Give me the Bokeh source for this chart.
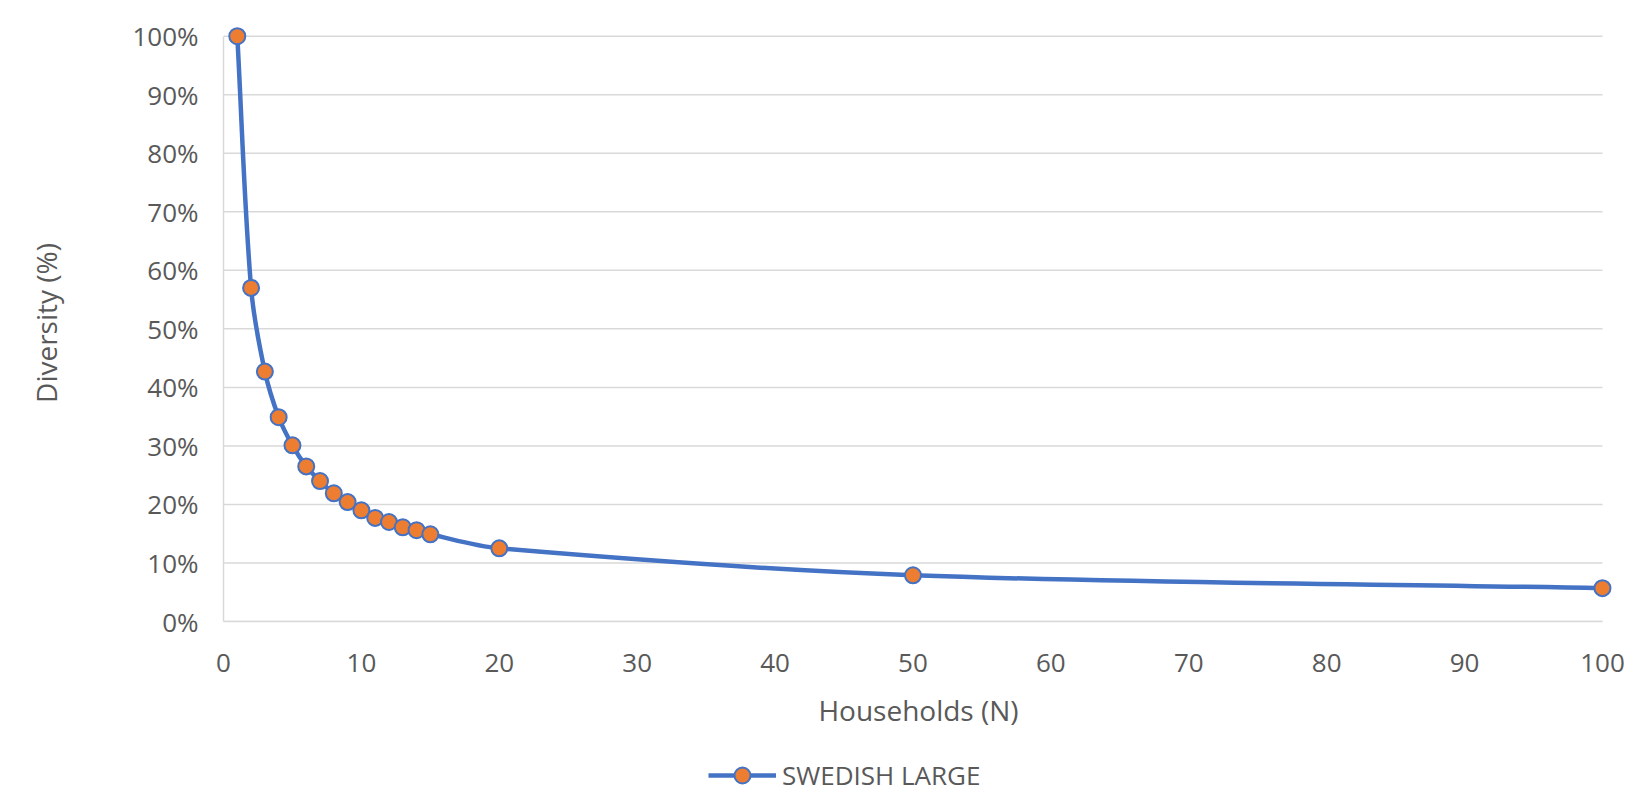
import math
import numpy as np
from bokeh.plotting import figure
from bokeh.layouts import column
from bokeh.models import Range1d, FixedTicker, Legend, LegendItem, NumeralTickFormatter
from bokeh.embed import file_html
from bokeh.resources import INLINE

# ---- data ----
households = [1, 2, 3, 4, 5, 6, 7, 8, 9, 10, 11, 12, 13, 14, 15, 20, 50, 100]
diversity = [1.000, 0.570, 0.427, 0.349, 0.301, 0.265, 0.240, 0.219, 0.204,
             0.190, 0.177, 0.170, 0.161, 0.156, 0.149, 0.125, 0.079, 0.057]
x_ticks = [0, 10, 20, 30, 40, 50, 60, 70, 80, 90, 100]
y_ticks = [0.0, 0.1, 0.2, 0.3, 0.4, 0.5, 0.6, 0.7, 0.8, 0.9, 1.0]
series_name = "SWEDISH LARGE"
x_title = "Households (N)"
y_title = "Diversity (%)"

LINE = "#4472C4"
MARK = "#ED7D31"
GRID = "#D9D9D9"
TXT = "#595959"
FONT = "Open Sans"

W = 1640
H_MAIN = 750
H_LEG = 52
LEFT = 223
p = figure(width=W, height=H_MAIN, output_backend="svg", toolbar_location=None,
           x_range=Range1d(0, 100.8), y_range=Range1d(0, 1.02),
           min_border_left=LEFT, min_border_right=W - 1613, min_border_top=24,
           min_border_bottom=H_MAIN - 621)
p.outline_line_color = None
p.xgrid.visible = False
p.ygrid.visible = False

# horizontal gridlines, spanning 0..100 like the reference
p.segment(x0=[x_ticks[0]] * len(y_ticks), x1=[x_ticks[-1]] * len(y_ticks),
          y0=y_ticks, y1=y_ticks, line_color=GRID, line_width=1.5)

# axes
for ax in (p.xaxis[0], p.yaxis[0]):
    ax.axis_line_color = GRID
    ax.axis_line_width = 1.5
    ax.major_tick_line_color = None
    ax.minor_tick_line_color = None
    ax.major_label_text_font = FONT
    ax.major_label_text_font_size = "26px"
    ax.major_label_text_color = TXT
    ax.axis_label_text_font = FONT
    ax.axis_label_text_font_style = "normal"
    ax.axis_label_text_color = TXT
    ax.axis_label_text_font_size = "28px"

p.xaxis.ticker = FixedTicker(ticks=x_ticks)
p.xaxis.bounds = (0, 100)
p.xaxis.major_label_standoff = 26
p.xaxis.axis_label = x_title
p.xaxis.axis_label_standoff = 16

p.yaxis.ticker = FixedTicker(ticks=y_ticks)
p.yaxis.bounds = (0, 1)
p.yaxis.formatter = NumeralTickFormatter(format="0%")
p.yaxis.major_label_standoff = 19
p.yaxis.axis_label = y_title
p.yaxis.axis_label_standoff = 64

# smoothed line (Bezier segments whose control points come from the data)
sx = 13.79   # approx px per x unit
sy = 585.0   # approx px per y unit
P = np.column_stack([np.array(households, float) * sx, np.array(diversity) * sy])
n = len(P)
T = np.zeros_like(P)
for i in range(n):
    a = P[max(i - 1, 0)]
    b = P[min(i + 1, n - 1)]
    d = b - a
    T[i] = d / np.hypot(*d)
x0, y0, x1, y1, cx0, cy0, cx1, cy1 = ([] for _ in range(8))
for i in range(n - 1):
    L = np.hypot(*(P[i + 1] - P[i]))
    c0 = P[i] + T[i] * L / 3
    c1 = P[i + 1] - T[i + 1] * L / 3
    x0.append(households[i]); y0.append(diversity[i])
    x1.append(households[i + 1]); y1.append(diversity[i + 1])
    cx0.append(c0[0] / sx); cy0.append(c0[1] / sy)
    cx1.append(c1[0] / sx); cy1.append(c1[1] / sy)
p.bezier(x0=x0, y0=y0, x1=x1, y1=y1, cx0=cx0, cy0=cy0, cx1=cx1, cy1=cy1,
         line_color=LINE, line_width=4.5)

p.scatter(households, diversity, size=16, fill_color=MARK,
          line_color=LINE, line_width=2)

# legend strip below the chart (its frame is aligned with the chart's frame)
lg = figure(width=W, height=H_LEG, output_backend="svg", toolbar_location=None,
            x_range=Range1d(0, 1), y_range=Range1d(0, 1),
            x_axis_type=None, y_axis_type=None, min_border=0)
lg.outline_line_color = None
lg.xgrid.visible = False
lg.ygrid.visible = False
# sample glyphs for the legend key, kept outside the visible range
leg_line = lg.line(x=[-10, -9], y=[-10, -10], line_color=LINE, line_width=4.5)
leg_pts = lg.scatter(x=[-10], y=[-10], size=16, fill_color=MARK, line_color=LINE, line_width=2)
legend = Legend(items=[LegendItem(label=series_name, renderers=[leg_line, leg_pts])],
                location=(708 - LEFT, H_LEG - (775 - H_MAIN) - 20), orientation="horizontal",
                glyph_width=68, glyph_height=40, label_standoff=6,
                label_text_font=FONT, label_text_font_size="26px",
                label_text_color=TXT, padding=0, margin=0, spacing=0,
                border_line_color=None, background_fill_alpha=0)
lg.add_layout(legend, "center")

layout = column(p, lg, spacing=0)
open("out.html", "w").write(file_html(layout, INLINE))
